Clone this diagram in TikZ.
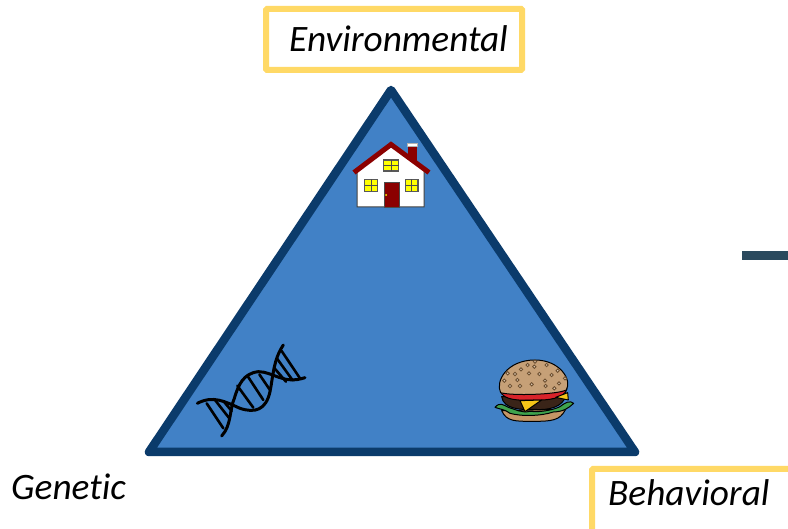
\documentclass[tikz,border=0pt]{standalone}
\usepackage{fontspec}
\setmainfont[Ligatures=NoCommon]{Carlito}
\definecolor{triblue}{HTML}{4181C6}
\definecolor{tridark}{HTML}{0B3B6B}
\definecolor{boxyellow}{HTML}{FFD966}
\definecolor{barcol}{HTML}{2B4A5E}
\definecolor{housered}{HTML}{8B0000}
\definecolor{winyellow}{HTML}{FFFF00}
\definecolor{bun}{HTML}{C6A077}
\definecolor{bunseed}{HTML}{6E5030}
\definecolor{tomato}{HTML}{D8232A}
\definecolor{patty}{HTML}{3A2418}
\definecolor{cheese}{HTML}{F5C518}
\definecolor{lettuce}{HTML}{3FA34D}
\tikzset{
  labelbox/.style={draw=boxyellow,line width=6pt,fill=white,rounded corners=1pt},
  labeltext/.style={inner sep=0pt,anchor=base west,font=\fontsize{37.3}{40}\selectfont\itshape,text=black},
  win/.style={fill=winyellow,draw=gray!70!black,line width=1.2pt},
  winbar/.style={draw=black!70,line width=0.7pt},
  dnaline/.style={draw=black,line width=3pt,line cap=round},
  rung/.style={draw=black,line width=2.6pt,line cap=round},
  seed/.style={draw=bunseed,line width=0.9pt,fill=bun!50!white},
  brg/.style={draw=black,line width=1pt,line join=round}
}
\begin{document}
\begin{tikzpicture}[x=1pt,y=-1pt]
\clip (0,0) rectangle (788,529);
\fill[white] (0,0) rectangle (788,529);
% triangle
\draw[fill=triblue,draw=tridark,line width=8.5pt,line join=round] (391,90) -- (635,452) -- (149,452) -- cycle;
% label boxes
\draw[labelbox] (266,9) rectangle (522,70);
\draw[labelbox] (592,469) rectangle (795,535);
\node[labeltext] (env) at (289,52) {Environmental};
\node[labeltext] (gen) at (11,500) {Genetic};
\node[labeltext] (beh) at (608,506) {Behavioral};
% bar at the right
\fill[barcol] (742,251) rectangle (788,260);
% house
\fill[housered] (408,144) rectangle (417,162);
\fill[white,draw=gray!60,line width=0.5pt] (407.5,143) rectangle (417.5,146);
\draw[fill=white,draw=black!75,line width=1pt] (357,170) -- (391,146) -- (424,170) -- (424,207) -- (357,207) -- cycle;
\draw[draw=housered,line width=5pt,line join=miter] (354,172.5) -- (391,144.5) -- (429,172.5);
\fill[housered,draw=black!70,line width=0.7pt] (384,182) rectangle (399,207);
\fill[winyellow] (386,195) circle (1pt);
\draw[win] (383.5,160) rectangle (398.5,171);
\draw[winbar] (391,160) -- (391,171) (383.5,165.5) -- (398.5,165.5);
\draw[win] (364.5,179.5) rectangle (377.5,191.5);
\draw[winbar] (371,179.5) -- (371,191.5) (364.5,185.5) -- (377.5,185.5);
\draw[win] (405.5,179.5) rectangle (418,191.5);
\draw[winbar] (411.7,179.5) -- (411.7,191.5) (405.5,185.5) -- (418,185.5);
% DNA
\begin{scope}[shift={(190,335)},x=0.3333pt,y=-0.3333pt]
\draw[dnaline] (95,303) .. controls (125,270) and (118,225) .. (133,190) .. controls (145,150) and (160,115) .. (205,110) .. controls (250,110) and (280,150) .. (345,128);
\draw[dnaline] (22,205) .. controls (70,180) and (105,200) .. (150,220) .. controls (195,235) and (228,225) .. (240,170) .. controls (250,120) and (250,75) .. (280,30);
\draw[rung] (50,205) -- (100,280);
\draw[rung] (75,195) -- (118,250);
\draw[rung] (100,198) -- (125,228);
\draw[rung] (142,152) -- (190,218);
\draw[rung] (172,122) -- (220,195);
\draw[rung] (208,118) -- (240,165);
\draw[rung] (252,98) -- (288,140);
\draw[rung] (262,72) -- (308,136);
\draw[rung] (275,48) -- (330,130);
\end{scope}
% burger
\begin{scope}[shift={(485,350)},x=0.3333pt,y=-0.3333pt]
\draw[brg,fill=bun!70!brown] (50,182) .. controls (65,215) and (90,214) .. (145,214) .. controls (200,214) and (225,212) .. (242,178) -- cycle;
\draw[brg,fill=lettuce] (30,172) .. controls (45,155) and (55,165) .. (70,172) .. controls (90,178) and (110,190) .. (135,184) .. controls (170,188) and (210,178) .. (225,170) .. controls (240,158) and (255,150) .. (266,160) .. controls (250,175) and (235,185) .. (205,186) .. controls (170,198) and (110,200) .. (75,190) .. controls (60,178) and (45,178) .. (30,172) -- cycle;
\draw[brg,fill=patty] (50,140) .. controls (55,178) and (110,180) .. (145,178) .. controls (190,182) and (235,172) .. (243,135) -- cycle;
\draw[brg,fill=tomato] (47,122) .. controls (50,152) and (110,152) .. (145,150) .. controls (190,152) and (240,145) .. (246,116) -- cycle;
\draw[brg,fill=cheese] (105,152) -- (170,150) -- (120,185) -- cycle;
\draw[brg,fill=cheese] (212,142) -- (248,128) -- (250,150) -- cycle;
\draw[brg,fill=bun] (47,128) .. controls (30,95) and (65,30) .. (150,30) .. controls (225,30) and (262,90) .. (244,120) .. controls (215,134) and (80,138) .. (47,128) -- cycle;
\foreach \px/\py in {128/45,185/45,150/35,68/70,90/72,132/70,163/72,218/62,200/75,240/85,58/92,97/90,180/92,222/100,75/108,105/108,140/103,182/108,208/115,148/50,108/58}{
  \draw[seed] (\px,\py) circle (5);
}
\end{scope}
\end{tikzpicture}
\end{document}
